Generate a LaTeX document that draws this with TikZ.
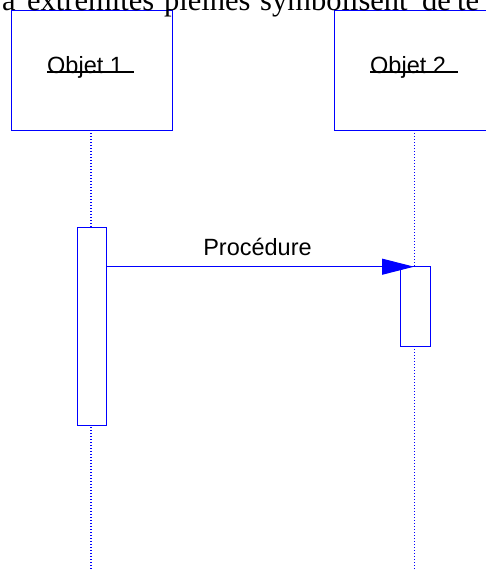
\documentclass[tikz,border=0pt]{standalone}
\usepackage{fontspec}
\setmainfont{Liberation Serif}
\newfontfamily\arialfont{Liberation Sans}
\usetikzlibrary{arrows.meta}
\definecolor{umlblue}{RGB}{0,0,255}
\begin{document}
\begin{tikzpicture}[x=1pt,y=-1pt,
  objbox/.style={draw=umlblue,line width=1pt},
  actbox/.style={draw=umlblue,line width=1pt,fill=white},
  lifeline/.style={draw=umlblue,line width=1.1pt,dash pattern=on 1.4pt off 1.6pt},
  objtext/.style={font=\arialfont\fontsize{23.5}{28}\selectfont,inner sep=0pt,anchor=base west},
  toptext/.style={font=\fontsize{30.5}{36}\selectfont,inner sep=0pt,anchor=base west},
  msg/.style={draw=umlblue,line width=1pt,-{Triangle[length=32pt,width=16pt]}}
]
\useasboundingbox (0,0) rectangle (486,571);
\clip (0,0) rectangle (486,571);
% lifelines
\coordinate (l1top) at (91,130);
\coordinate (l1bot) at (91,571);
\coordinate (l2top) at (414.5,130);
\coordinate (l2bot) at (414.5,571);
\draw[lifeline] (l1top) -- (l1bot);
\draw[lifeline] (l2top) -- (l2bot);
% object boxes
\draw[objbox] (11,10.5) rectangle (172,130);
\draw[objbox] (334,10.5) rectangle (500,130);
\node[objtext] (o1) at (47,73) {Objet 1};
\node[objtext] (o2) at (370,73) {Objet 2};
\draw[line width=1.6pt] (47,72) -- (134,72);
\draw[line width=1.6pt] (370,72) -- (458,72);
% activations
\node[actbox,minimum width=29pt,minimum height=198pt,inner sep=0pt] (a1) at (91.5,326) {};
\node[actbox,minimum width=30pt,minimum height=80pt,inner sep=0pt] (a2) at (415,306.8) {};
% message
\coordinate (tip) at (414,266.7);
\draw[msg] (a1.east |- tip) -- (tip);
\node[objtext,anchor=base] (lbl) at (257.5,255) {Procédure};
% top clipped text
\node[toptext] (w1) at (2,10.5) {a};
\node[toptext] (w2) at (27,10.5) {extrémités};
\node[toptext] (w3) at (164,10.5) {pleines};
\node[toptext] (w4) at (260,10.5) {symbolisent};
\node[toptext] (w5) at (422,10.5) {de};
\node[toptext] (w6) at (457,10.5) {te};
\end{tikzpicture}
\end{document}
